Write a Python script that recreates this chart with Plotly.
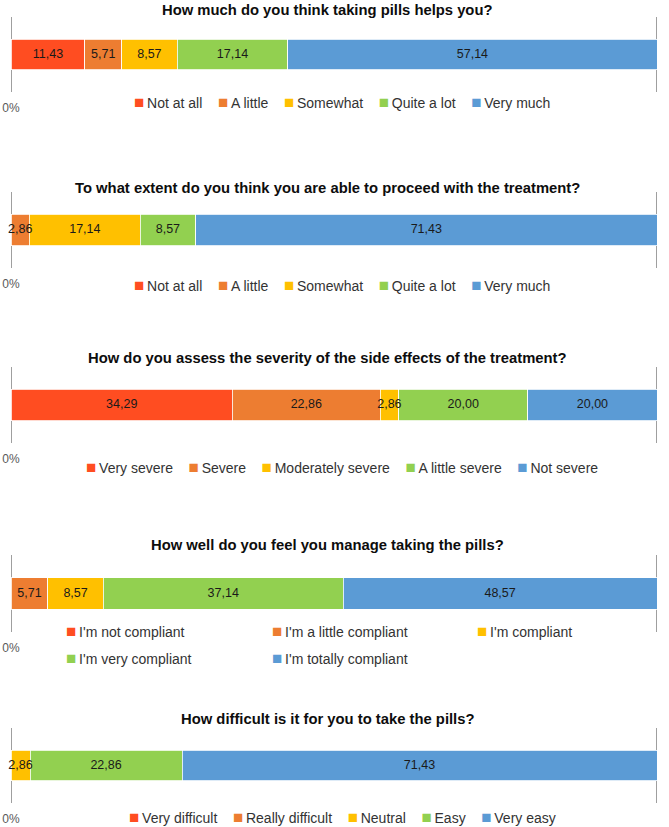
import plotly.graph_objects as go

W, H = 669, 827

titles = [
    "How much do you think taking pills helps you?",
    "To what extent do you think you are able to proceed with the treatment?",
    "How do you assess the severity of the side effects of the treatment?",
    "How well do you feel you manage taking the pills?",
    "How difficult is it for you to take the pills?",
]

cats_q1 = ["Not at all", "A little", "Somewhat", "Quite a lot", "Very much"]
cats_q2 = ["Not at all", "A little", "Somewhat", "Quite a lot", "Very much"]
cats_q3 = ["Very severe", "Severe", "Moderately severe", "A little severe", "Not severe"]
cats_q4 = ["I'm not compliant", "I'm a little compliant", "I'm compliant",
           "I'm very compliant", "I'm totally compliant"]
cats_q5 = ["Very difficult", "Really difficult", "Neutral", "Easy", "Very easy"]

vals_q1 = [11.43, 5.71, 8.57, 17.14, 57.14]
vals_q2 = [0.00, 2.86, 17.14, 8.57, 71.43]
vals_q3 = [34.29, 22.86, 2.86, 20.00, 20.00]
vals_q4 = [0.00, 5.71, 8.57, 37.14, 48.57]
vals_q5 = [0.00, 0.00, 2.86, 22.86, 71.43]

tick_vals = [0, 100]
tick_text = ["0%", "100%"]

categories = [cats_q1, cats_q2, cats_q3, cats_q4, cats_q5]
values = [vals_q1, vals_q2, vals_q3, vals_q4, vals_q5]

colors = ["#FF4D21", "#ED7D31", "#FFC000", "#92D050", "#5B9BD5"]
FONT = "Liberation Sans, Arial, sans-serif"

# layout geometry (pixels from top)
dom_px = [(17, 92), (192, 268), (367, 443), (555, 632), (728, 803)]
title_px = [10, 188, 358, 545, 719]
legend_px = [103, 285, 467, None, 817]
legend4_rows_px = [631, 658]
legend4_cols_px = [64, 270, 475]


def fmt(v):
    return "" if v == 0 else f"{v:.2f}".replace(".", ",")


def legend_item(cat, color):
    return (f"<span style='color:{color};font-size:17px'>\u25A0</span>"
            f"\u2009{cat}")


fig = go.Figure()
layout = {}
shapes = []
annotations = []
for i in range(5):
    sfx = "" if i == 0 else str(i + 1)
    vals = values[i]
    total = sum(vals)
    cum = 0.0
    mids = []
    for val in vals:
        mids.append(100.0 * (cum + val / 2.0) / total)
        cum += val
    for j, (cat, val) in enumerate(zip(categories[i], vals)):
        fig.add_trace(go.Bar(
            x=[val], y=[0], orientation="h", name=cat,
            marker=dict(color=colors[j], line=dict(color="white", width=0.8)),
            xaxis="x" + sfx, yaxis="y" + sfx, width=0.41,
            hoverinfo="skip", showlegend=False,
        ))
    # data labels on top of all segments
    fig.add_trace(go.Scatter(
        x=mids, y=[0] * len(vals), mode="text", text=[fmt(v) for v in vals],
        textposition="middle center",
        textfont=dict(size=12.5, color="#1A1A1A", family=FONT),
        xaxis="x" + sfx, yaxis="y" + sfx, hoverinfo="skip", showlegend=False,
        cliponaxis=False,
    ))
    top, bot = dom_px[i]
    layout["xaxis" + sfx] = dict(
        domain=[11 / W, 657 / W], range=[0, 100], anchor="y" + sfx,
        tickvals=tick_vals, ticktext=tick_text, showgrid=False, zeroline=False,
        showline=False, ticks="outside", ticklen=5, tickcolor="rgba(0,0,0,0)",
        tickfont=dict(size=12, color="#595959", family=FONT), fixedrange=True,
        automargin=False,
    )
    layout["yaxis" + sfx] = dict(
        domain=[1 - bot / H, 1 - top / H], range=[-0.5, 0.5], anchor="x" + sfx,
        visible=False, fixedrange=True, automargin=False,
    )
    for xv in tick_vals:
        shapes.append(dict(type="line", xref="x" + sfx, yref="y" + sfx + " domain",
                           x0=xv, x1=xv, y0=0, y1=1, layer="below",
                           line=dict(color="#7F7F7F", width=1.5)))
    annotations.append(dict(
        text=f"<b>{titles[i]}</b>", xref="paper", yref="paper",
        x=327 / W, y=1 - title_px[i] / H, xanchor="center", yanchor="middle",
        showarrow=False, font=dict(size=14.8, color="#0D0D0D", family=FONT),
    ))
    leg_font = dict(size=14, color="#333333", family=FONT)
    if i != 3:
        txt = ("\u00a0" * 4).join(legend_item(c, colors[j])
                                   for j, c in enumerate(categories[i]))
        annotations.append(dict(
            text=txt, xref="paper", yref="paper", x=342 / W,
            y=1 - legend_px[i] / H, xanchor="center", yanchor="middle",
            showarrow=False, font=leg_font,
        ))
    else:
        for j, c in enumerate(categories[i]):
            row, col = divmod(j, 3)
            annotations.append(dict(
                text=legend_item(c, colors[j]), xref="paper", yref="paper",
                x=legend4_cols_px[col] / W, y=1 - legend4_rows_px[row] / H,
                xanchor="left", yanchor="middle", showarrow=False, font=leg_font,
            ))

fig.update_layout(
    width=W, height=H, margin=dict(l=0, r=0, t=0, b=0, autoexpand=False),
    barmode="stack", barnorm="percent", separators=",.",
    plot_bgcolor="white", paper_bgcolor="white", showlegend=False,
    font=dict(family=FONT), shapes=shapes, annotations=annotations,
    **layout,
)

fig.write_html("out.html")
